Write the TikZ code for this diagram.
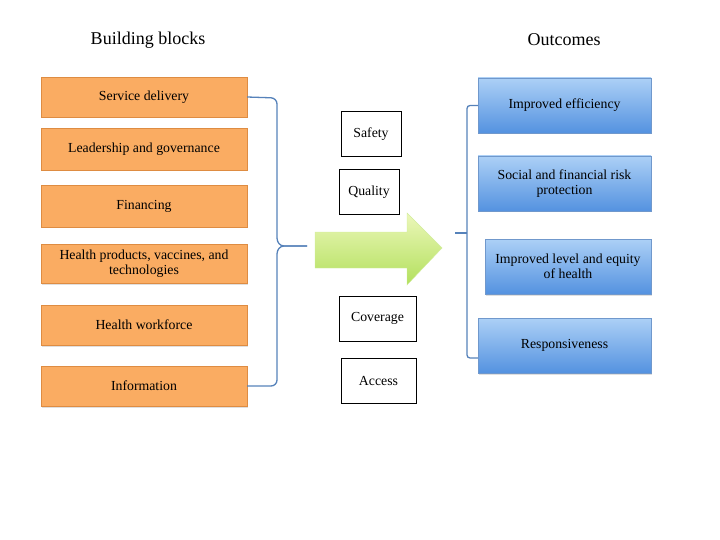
\documentclass[tikz,border=0pt]{standalone}
\usepackage{fontspec}
\setmainfont{Liberation Serif}
\usetikzlibrary{shadows}

\definecolor{blockfill}{RGB}{250,172,98}
\definecolor{blockline}{RGB}{222,140,66}
\definecolor{outtop}{RGB}{172,208,246}
\definecolor{outbot}{RGB}{84,146,224}
\definecolor{outline}{RGB}{112,152,204}
\definecolor{bracecol}{RGB}{86,130,186}
\definecolor{arrtop}{RGB}{236,247,186}
\definecolor{arrbot}{RGB}{178,224,92}

\begin{document}
\begin{tikzpicture}[x=1pt,y=-1pt,
    block/.style={draw=blockline,fill=blockfill,minimum width=206pt,minimum height=40pt,
        align=center,font=\fontsize{13.8}{15}\selectfont,inner sep=2pt,
        drop shadow={opacity=0.25,shadow xshift=0.8pt,shadow yshift=-1.5pt}},
    outcome/.style={draw=outline,top color=outtop,bottom color=outbot,minimum height=55pt,
        align=center,font=\fontsize{13.8}{15.5}\selectfont,inner sep=2pt,
        drop shadow={opacity=0.25,shadow xshift=0.8pt,shadow yshift=-1.5pt}},
    goal/.style={draw,line width=1pt,fill=white,minimum height=45pt,font=\fontsize{13.8}{15}\selectfont},
    brace/.style={draw=bracecol,line width=1.3pt},
    title/.style={font=\fontsize{18}{20}\selectfont}]

    % page size
    \useasboundingbox (0,0) rectangle (720,540);

    % titles
    \node[title] (bbtitle) at (148,40) {Building blocks};
    \node[title] (outtitle) at (564,40) {Outcomes};

    % building blocks
    \node[block] (service) at (144,97) {Service delivery};
    \node[block,minimum height=42pt] (leader) at (144,149) {Leadership and governance};
    \node[block,minimum height=42pt] (finance) at (144,206) {Financing};
    \node[block,minimum height=39pt] (products) at (144,263.5) {Health products, vaccines, and\\technologies};
    \node[block] (workforce) at (144,325) {Health workforce};
    \node[block] (info) at (144,386) {Information};

    % goals in the middle
    \node[goal,minimum width=60pt] (safety) at (371,134.5) {Safety};
    \node[goal,minimum width=60pt] (quality) at (369,192.5) {Quality};
    \node[goal,minimum width=77pt] (coverage) at (377.5,318.5) {Coverage};
    \node[goal,minimum width=75pt] (access) at (378.5,381) {Access};

    % outcomes
    \node[outcome,minimum width=173pt] (effic) at (564.5,105.5) {Improved efficiency};
    \node[outcome,minimum width=173pt] (social) at (564.5,183.5) {Social and financial risk\\protection};
    \node[outcome,minimum width=166pt] (equity) at (568,266.5) {Improved level and equity\\of health};
    \node[outcome,minimum width=173pt] (resp) at (564.5,345.5) {Responsiveness};

    % big arrow
    \shade[top color=arrtop,bottom color=arrbot,draw=arrbot!60!white]
        (315,232) -- (407,232) -- (407,213) -- (442,248) -- (407,285) -- (407,268) -- (315,268) -- cycle;

    % left brace
    \coordinate (ltip) at (307,246);
    \draw[brace,rounded corners=6pt] (service.east) -- (277,98) -- (277,238);
    \draw[brace] (277,238) to[out=-90,in=180] (284,246) -- (ltip);
    \draw[brace] (ltip) -- (284,246) to[out=180,in=90] (277,254);
    \draw[brace,rounded corners=6pt] (277,254) -- (277,386) -- (info.east);

    % right brace
    \coordinate (rtip) at (455,233);
    \coordinate (rtop) at (effic.west);
    \coordinate (rbot) at ([yshift=-12.5pt]resp.west);
    \draw[brace,rounded corners=3pt] (rtop) -- (467,105.5) -- (467,358) -- (rbot);
    \draw[brace] (467,233) -- (rtip);
\end{tikzpicture}
\end{document}
